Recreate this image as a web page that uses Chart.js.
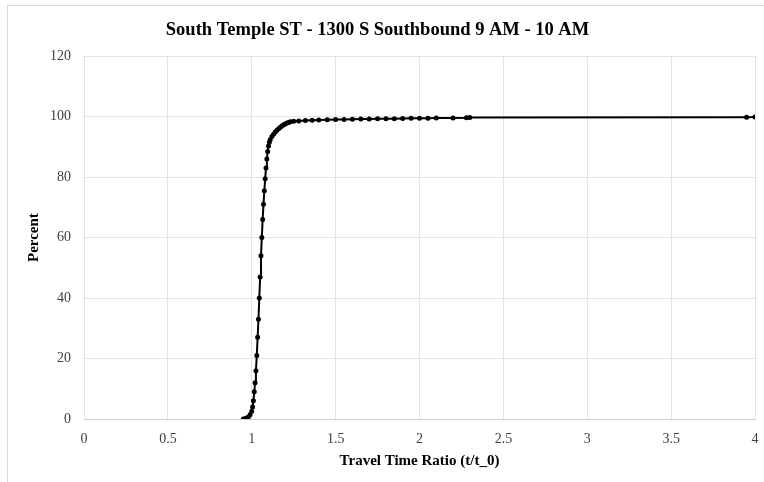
<!DOCTYPE html>
<html>
<head>
<meta charset="utf-8">
<script src="https://cdn.jsdelivr.net/npm/chart.js@4.4.0/dist/chart.umd.min.js"></script>
<style>
    html, body { margin: 0; padding: 0; background: #fff; overflow: hidden; }
    #frame { position: absolute; left: 7px; top: 5px; width: 800px; height: 520px; border: 1px solid #d9d9d9; }
    #wrap { position: absolute; left: 0; top: 0; width: 764px; height: 482px; }
</style>
</head>
<body>
<div id="frame"></div>
<div id="wrap"><canvas id="cdf"></canvas></div>
<script>
/*
        Cumulative distribution of travel time ratio, one scatter series drawn with a line.
*/

const chartTitle = "South Temple ST - 1300 S Southbound 9 AM - 10 AM";
const xTitle = "Travel Time Ratio (t/t_0)";
const yTitle = "Percent";

// values
const ratio = [0.95, 0.96, 0.97, 0.98, 0.99, 1.00, 1.005, 1.01, 1.015, 1.02, 1.025, 1.03, 1.035, 1.04, 1.045,
    1.05, 1.055, 1.06, 1.065, 1.07, 1.075, 1.08, 1.085, 1.09, 1.095, 1.10, 1.105, 1.11, 1.12, 1.13,
    1.14, 1.15, 1.16, 1.17, 1.18, 1.19, 1.20, 1.21, 1.22, 1.23, 1.25, 1.28, 1.32, 1.36, 1.40,
    1.45, 1.50, 1.55, 1.60, 1.65, 1.70, 1.75, 1.80, 1.85, 1.90, 1.95, 2.00, 2.05, 2.10, 2.20,
    2.28, 2.30, 3.95, 4.00];
const percent = [0, 0.1, 0.3, 0.7, 1.4, 2.6, 4, 6, 9, 12, 16, 21, 27, 33, 40,
    47, 54, 60, 66, 71, 75.5, 79.5, 83, 86, 88.5, 90.3, 91.5, 92.4, 93.4, 94.2,
    94.9, 95.5, 96.0, 96.5, 96.9, 97.3, 97.6, 97.9, 98.1, 98.3, 98.5, 98.6, 98.7, 98.8, 98.9,
    99.0, 99.05, 99.1, 99.15, 99.2, 99.25, 99.3, 99.3, 99.35, 99.4, 99.45, 99.5, 99.5, 99.55, 99.6,
    99.65, 99.75, 99.8, 99.85];

const xTicks = [0, 0.5, 1, 1.5, 2, 2.5, 3, 3.5, 4];
const yTicks = [0, 20, 40, 60, 80, 100, 120];

const serif = "'Liberation Serif', 'Times New Roman', serif";
const points = ratio.map((r, i) => ({ x: r, y: percent[i] }));

new Chart(document.getElementById("cdf").getContext("2d"), {
    type: "scatter",
    data: {
        datasets: [
            {
                data: points,
                showLine: true,
                borderColor: "#000",
                borderWidth: 2,
                backgroundColor: "#000",
                pointRadius: 1.5,
                pointHoverRadius: 1.5,
                tension: 0,
            },
        ],
    },
    options: {
        responsive: true,
        maintainAspectRatio: false,
        animation: false,
        layout: { padding: { left: 0, right: 9, top: 0, bottom: 0 } },
        plugins: {
            legend: { display: false },
            tooltip: { enabled: false },
            title: {
                display: true,
                text: chartTitle,
                color: "#000",
                font: { family: serif, size: 18.5, weight: "bold" },
                padding: { top: 19, bottom: 15 },
            },
        },
        scales: {
            x: {
                type: "linear",
                min: 0,
                max: 4,
                afterBuildTicks: (scale) => { scale.ticks = xTicks.map((v) => ({ value: v })); },
                ticks: {
                    color: "#404040",
                    font: { family: serif, size: 14 },
                    padding: 12,
                    callback: (v) => String(v),
                },
                grid: { color: "#e3e3e3", drawTicks: false },
                border: { color: "#d0d0d0" },
                title: {
                    display: true,
                    text: xTitle,
                    color: "#000",
                    font: { family: serif, size: 15, weight: "bold" },
                    padding: { top: 0, bottom: 12 },
                },
                // keep the plot edge where the picture has it, not pushed in by the tick padding
                afterFit: (scale) => {
                    scale.height = 63;
                    scale.paddingLeft = 0;
                    scale.paddingRight = 0;
                },
            },
            y: {
                min: 0,
                max: 120,
                afterBuildTicks: (scale) => { scale.ticks = yTicks.map((v) => ({ value: v })); },
                ticks: { color: "#404040", font: { family: serif, size: 14 }, padding: 13 },
                grid: { color: "#e3e3e3", drawTicks: false },
                border: { display: false },
                title: {
                    display: true,
                    text: yTitle,
                    color: "#000",
                    font: { family: serif, size: 15, weight: "bold" },
                    padding: { top: 25, bottom: 0 },
                },
                afterFit: (scale) => { scale.width = 84; },
            },
        },
    },
});
</script>
</body>
</html>
